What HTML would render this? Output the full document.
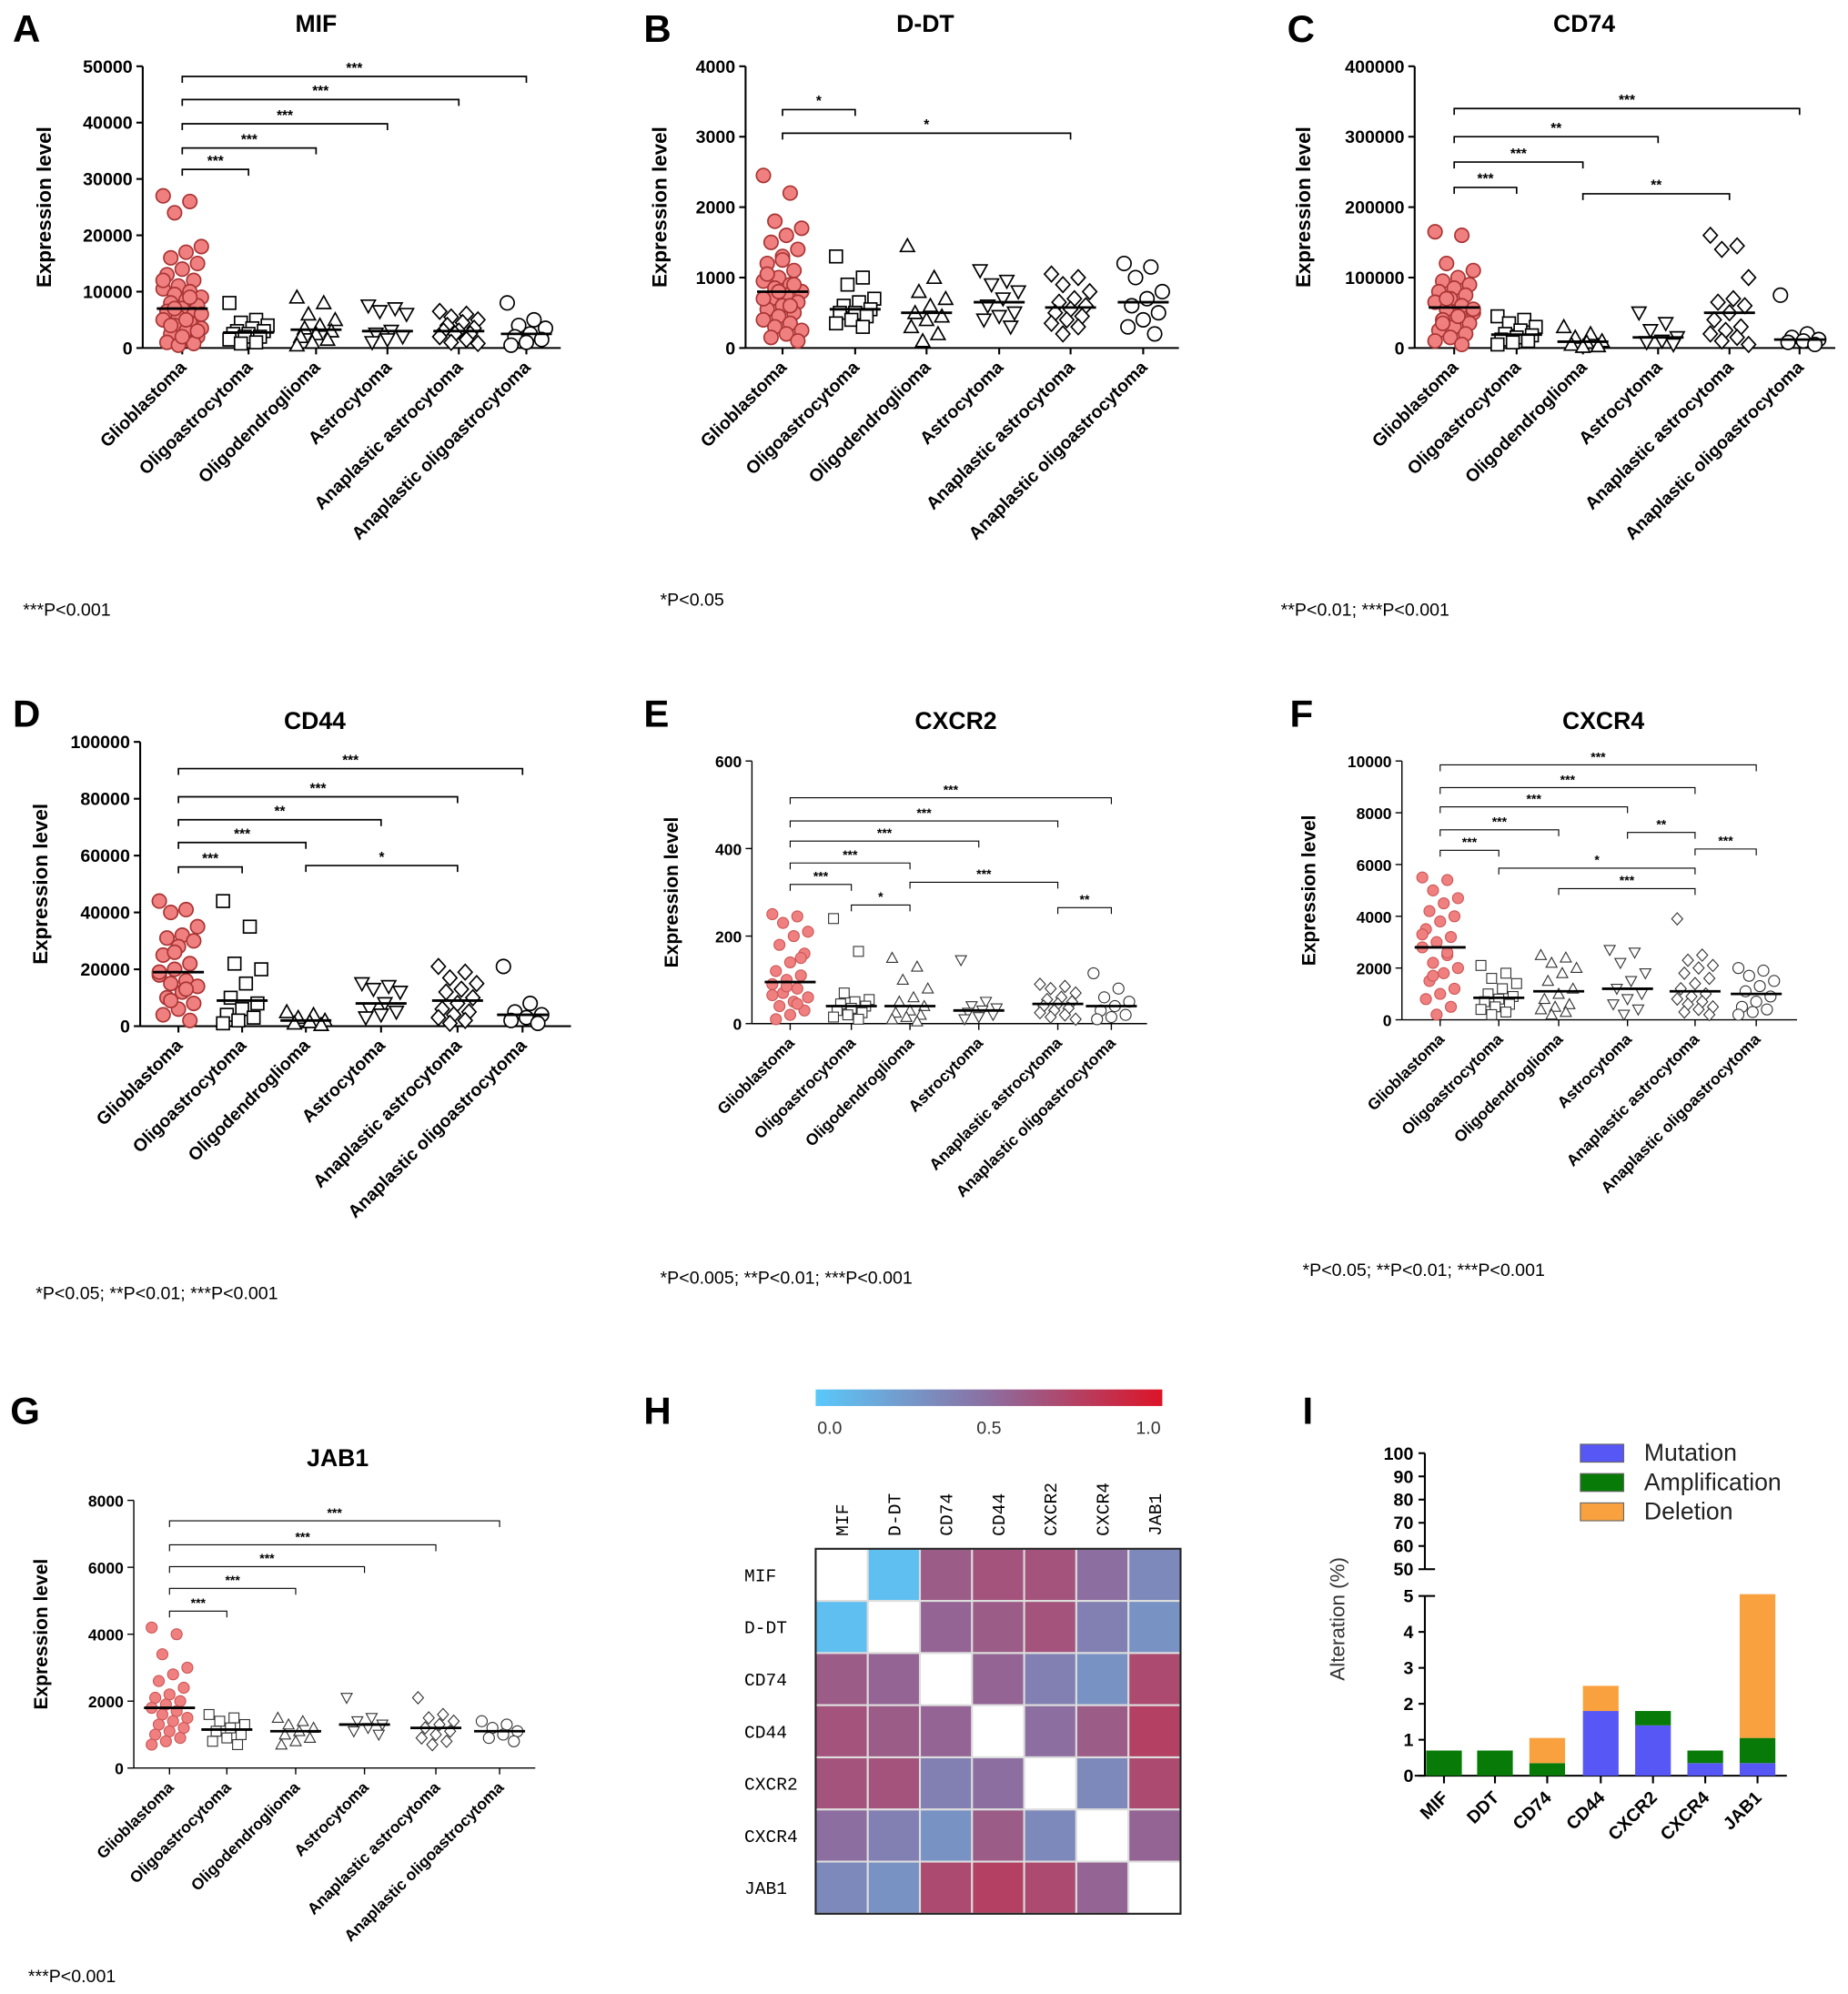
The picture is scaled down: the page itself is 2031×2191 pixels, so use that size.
<!DOCTYPE html>
<html><head><meta charset="utf-8"><style>
html,body{margin:0;padding:0;background:#fff;}
svg{display:block;font-family:"Liberation Sans",Arial,sans-serif;}
</style></head>
<body>
<svg id="fig" xmlns="http://www.w3.org/2000/svg" width="2031" height="2191" viewBox="0 0 1450 1564.25" preserveAspectRatio="none"></svg>
<script>
const catNames = ['Glioblastoma','Oligoastrocytoma','Oligodendroglioma','Astrocytoma','Anaplastic astrocytoma','Anaplastic oligoastrocytoma'];

const mifTicks = [0,10000,20000,30000,40000,50000];
const mifValues = [
 [27000,26000,24000,18000,17000,16000,15000,14000,13000,12000,11000,10500,10000,9500,9000,8500,8000,7500,7000,6500,6000,5500,5000,4500,4000,3500,3000,2500,2000,1500,1000,800,500,12000,9000,7000,6000,5000,4000,3000,2000],
 [8000,5000,4500,4000,3500,3000,3000,2500,2500,2000,2000,1500,1000,800],
 [9000,8000,6000,5000,4000,3500,3000,2500,2000,1500,1000,500],
 [7500,7000,6500,6000,3000,2500,2000,1500,1000],
 [6500,6000,5500,5000,4500,4000,3500,3000,3000,2500,2500,2000,1500,1000,800],
 [8000,5000,4000,3500,2500,2000,1500,1000,500]];
const mifBrackets = [[0,5,48200,'***'],[0,4,44100,'***'],[0,3,39800,'***'],[0,2,35500,'***'],[0,1,31700,'***']];

const ddtTicks = [0,1000,2000,3000,4000];
const ddtValues = [
 [2450,2200,1800,1700,1600,1500,1400,1300,1200,1100,1000,950,900,850,800,750,700,650,600,550,500,450,400,350,300,250,200,150,100,1250,1050,900,800,700,600],
 [1300,1000,900,700,650,600,550,500,500,450,400,350,300],
 [1450,1000,800,700,600,500,450,400,300,200,100],
 [1100,950,900,800,700,600,500,450,400,300],
 [1050,1000,900,800,700,650,600,550,500,450,400,350,300,200],
 [1200,1150,1000,800,700,600,500,400,300,200]];
const ddtBrackets = [[0,1,3385,'*'],[0,4,3050,'*']];

const cd74Ticks = [0,100000,200000,300000,400000];
const cd74Values = [
 [165000,160000,120000,110000,100000,95000,90000,85000,80000,75000,70000,65000,60000,55000,50000,45000,40000,35000,30000,25000,20000,15000,10000,5000,70000,55000,45000,35000],
 [45000,40000,35000,30000,25000,20000,18000,15000,12000,10000,8000,5000],
 [30000,20000,15000,10000,8000,5000,3000,2000],
 [50000,35000,25000,15000,10000,8000,5000],
 [160000,145000,140000,100000,70000,65000,60000,50000,40000,30000,25000,20000,15000,10000,5000],
 [75000,20000,15000,12000,10000,8000,5000]];
const cd74Brackets = [[0,5,340000,'***'],[0,3,300000,'**'],[0,2,264000,'***'],[0,1,228000,'***'],[2,4,219000,'**']];

const cd44Ticks = [0,20000,40000,60000,80000,100000];
const cd44Values = [
 [44000,41000,40000,35000,32000,31000,30000,28000,25000,22000,20000,18000,16000,15000,14000,12000,10000,8000,6000,4000,2000,26000,19000,13000,9000],
 [44000,35000,22000,20000,15000,10000,8000,6000,4000,3000,2000,1000],
 [5000,4000,3000,2000,1500,1000,500],
 [15000,14000,13000,12000,8000,6000,5000,4000,3000],
 [21000,19000,17000,15000,13000,12000,10000,8000,6000,5000,4000,3000,2000,1000],
 [21000,8000,5000,4000,3000,2000,1000]];
const cd44Brackets = [[0,5,90600,'***'],[0,4,80700,'***'],[0,3,72600,'**'],[0,2,64600,'***'],[0,1,56000,'***'],[2,4,56500,'*']];

const cxcr2Ticks = [0,200,400,600];
const cxcr2Values = [
 [250,245,230,210,200,180,160,140,120,110,100,90,80,70,60,50,40,30,20,10,150,85,65,45],
 [240,165,70,55,50,45,40,35,30,25,20,15,10],
 [150,130,100,80,60,50,40,30,25,20,15,10,5],
 [145,50,40,35,30,25,20,15,10],
 [90,85,80,70,60,55,50,45,40,35,30,25,20,15,10],
 [115,80,60,50,40,30,20,15,10]];
const cxcr2Brackets = [[0,5,516,'***'],[0,4,463,'***'],[0,3,417,'***'],[0,2,367,'***'],[0,1,318,'***'],[1,2,271,'*'],[2,4,323,'***'],[4,5,265,'**']];

const cxcr4Ticks = [0,2000,4000,6000,8000,10000];
const cxcr4Values = [
 [5500,5400,5000,4700,4500,4200,4000,3800,3500,3200,3000,2800,2500,2200,2000,1800,1500,1200,1000,800,500,200,3300,2600,1700],
 [2100,1800,1600,1400,1200,1000,900,800,700,600,500,400,300,200],
 [2500,2400,2200,2000,1800,1500,1200,1000,800,600,500,400,300,200],
 [2700,2600,2200,1800,1500,1200,1000,800,600,400,200],
 [3900,2500,2300,2100,2000,1800,1600,1400,1200,1000,900,800,700,600,500,400,300,200],
 [2000,1900,1700,1500,1300,1100,900,700,500,400,300,200]];
const cxcr4Brackets = [[0,5,9850,'***'],[0,4,8970,'***'],[0,3,8230,'***'],[0,2,7340,'***'],[0,1,6550,'***'],[1,4,5860,'*'],[2,4,5070,'***'],[3,4,7240,'**'],[4,5,6600,'***']];

const jab1Ticks = [0,2000,4000,6000,8000];
const jab1Values = [
 [4200,4000,3400,3000,2800,2600,2400,2200,2100,2000,1900,1800,1700,1600,1500,1400,1300,1200,1100,1000,900,800,700],
 [1600,1500,1400,1300,1200,1100,1000,900,800,700],
 [1500,1400,1300,1200,1100,1000,900,800,700],
 [2100,1500,1400,1300,1200,1100,1000],
 [2100,1600,1500,1400,1300,1200,1100,1000,900,800,700],
 [1400,1300,1200,1100,1000,900,800]];
const jab1Brackets = [[0,5,7390,'***'],[0,4,6670,'***'],[0,3,6020,'***'],[0,2,5370,'***'],[0,1,4690,'***']];

const heatGenes = ['MIF','D-DT','CD74','CD44','CXCR2','CXCR4','JAB1'];
const heatMatrix = [
 [null,0.05,0.6,0.65,0.65,0.5,0.35],
 [0.05,null,0.55,0.6,0.65,0.4,0.3],
 [0.6,0.55,null,0.55,0.4,0.3,0.7],
 [0.65,0.6,0.55,null,0.5,0.6,0.75],
 [0.65,0.65,0.4,0.5,null,0.35,0.7],
 [0.5,0.4,0.3,0.6,0.35,null,0.55],
 [0.35,0.3,0.7,0.75,0.7,0.55,null]];
const heatTicks = [0,0.5,1.0];

const altGenes = ['MIF','DDT','CD74','CD44','CXCR2','CXCR4','JAB1'];
const altMutation = [0,0,0,1.8,1.4,0.35,0.35];
const altAmplification = [0.7,0.7,0.35,0,0.4,0.35,0.7];
const altDeletion = [0,0,0.7,0.7,0,0,4.0];
const altLowTicks = [0,1,2,3,4,5];
const altHighTicks = [50,60,70,80,90,100];

const NS='http://www.w3.org/2000/svg';
const svg=document.getElementById('fig');
function mk(tag,attrs,parent){const e=document.createElementNS(NS,tag);for(const k in attrs)e.setAttribute(k,attrs[k]);(parent||svg).appendChild(e);return e;}
function fmt(v){return String(v);}

const panels=[
 {id:'mif',title:'MIF',letter:'A',lx:10,ly:33,ax:112,y0:273,y1:52,xs:[143,195,248,304,360,413],xEnd:440,tx:248,ty:25,ylx:40,values:mifValues,ticks:mifTicks,br:mifBrackets,foot:'***P<0.001',fx:18,fy:483,small:false},
 {id:'ddt',title:'D-DT',letter:'B',lx:505,ly:33,ax:585,y0:273,y1:52,xs:[614,671,727,784,840,897],xEnd:925,tx:726,ty:25,ylx:523,values:ddtValues,ticks:ddtTicks,br:ddtBrackets,foot:'*P<0.05',fx:518,fy:475,small:false},
 {id:'cd74',title:'CD74',letter:'C',lx:1010,ly:33,ax:1110,y0:273,y1:52,xs:[1141,1190,1242,1301,1357,1412],xEnd:1440,tx:1243,ty:25,ylx:1028,values:cd74Values,ticks:cd74Ticks,br:cd74Brackets,foot:'**P<0.01; ***P<0.001',fx:1005,fy:483,small:false},
 {id:'cd44',title:'CD44',letter:'D',lx:10,ly:570,ax:110,y0:805,y1:582,xs:[140,190,240,299,359,410],xEnd:448,tx:247,ty:572,ylx:37,values:cd44Values,ticks:cd44Ticks,br:cd44Brackets,foot:'*P<0.05; **P<0.01; ***P<0.001',fx:28,fy:1019,small:false},
 {id:'cxcr2',title:'CXCR2',letter:'E',lx:505,ly:570,ax:590,y0:803,y1:597,xs:[620,668,714,768,830,872],xEnd:900,tx:750,ty:572,ylx:532,values:cxcr2Values,ticks:cxcr2Ticks,br:cxcr2Brackets,foot:'*P<0.005; **P<0.01; ***P<0.001',fx:518,fy:1007,small:true},
 {id:'cxcr4',title:'CXCR4',letter:'F',lx:1012,ly:570,ax:1100,y0:800,y1:597,xs:[1130,1176,1223,1277,1330,1378],xEnd:1410,tx:1258,ty:572,ylx:1032,values:cxcr4Values,ticks:cxcr4Ticks,br:cxcr4Brackets,foot:'*P<0.05; **P<0.01; ***P<0.001',fx:1022,fy:1001,small:true},
 {id:'jab1',title:'JAB1',letter:'G',lx:8,ly:1117,ax:105,y0:1387,y1:1177,xs:[133,178,232,286,342,392],xEnd:420,tx:265,ty:1150,ylx:37,values:jab1Values,ticks:jab1Ticks,br:jab1Brackets,foot:'***P<0.001',fx:22,fy:1555,small:true}
];

function marker(g,shape,cx,cy,r,glio,small){
 let e;
 const sw=small?0.8:1.2;
 const stroke=glio?(small?'#c55':'#a33'):(small?'#333':'#000');
 const fill=glio?'#f08080':'#fff';
 if(shape===0||shape===5) e=mk('circle',{cx:cx,cy:cy,r:r,fill:fill,stroke:stroke,'stroke-width':sw},g);
 else if(shape===1) e=mk('rect',{x:cx-r*0.9,y:cy-r*0.9,width:r*1.8,height:r*1.8,fill:fill,stroke:stroke,'stroke-width':sw},g);
 else if(shape===2) e=mk('polygon',{points:`${cx},${cy-r} ${cx-r},${cy+r*0.8} ${cx+r},${cy+r*0.8}`,fill:fill,stroke:stroke,'stroke-width':sw},g);
 else if(shape===3) e=mk('polygon',{points:`${cx},${cy+r} ${cx-r},${cy-r*0.8} ${cx+r},${cy-r*0.8}`,fill:fill,stroke:stroke,'stroke-width':sw},g);
 else e=mk('polygon',{points:`${cx},${cy-r*1.1} ${cx+r},${cy} ${cx},${cy+r*1.1} ${cx-r},${cy}`,fill:fill,stroke:stroke,'stroke-width':sw},g);
 return e;
}
function median(a){const s=a.slice().sort((x,y)=>x-y);const n=s.length;return n%2?s[(n-1)/2]:(s[n/2-1]+s[n/2])/2;}

panels.forEach(p=>{
 const g=mk('g',{});
 
 
 const max=p.ticks[p.ticks.length-1];
 const yS=v=>p.y0-(v/max)*(p.y0-p.y1);
 const fs=p.small?12.5:14;
 let t=mk('text',{x:p.lx,y:p.ly,'font-size':30,'font-weight':'bold'},g);t.textContent=p.letter;
 
 
 t=mk('text',{x:p.tx,y:p.ty,'font-size':19,'font-weight':'bold','text-anchor':'middle'},g);t.textContent=p.title;
 
 
 t=mk('text',{x:p.ylx,y:(p.y0+p.y1)/2,'font-size':p.small?15:16,'font-weight':'bold','text-anchor':'middle',transform:`rotate(-90 ${p.ylx} ${(p.y0+p.y1)/2})`},g);t.textContent='Expression level';
 
 
 const ax=mk('g',{stroke:'#000','stroke-width':p.small?1:1.5},g);
 
 
 mk('line',{x1:p.ax,y1:p.y0,x2:p.ax,y2:p.y1},ax);
 mk('line',{x1:p.ax,y1:p.y0,x2:p.xEnd,y2:p.y0},ax);
 p.ticks.forEach(v=>{
  mk('line',{x1:p.ax-5,y1:yS(v),x2:p.ax,y2:yS(v)},ax);
  const tt=mk('text',{x:p.ax-8,y:yS(v)+5,'font-size':fs,'font-weight':'bold','text-anchor':'end',stroke:'none'},g);tt.textContent=fmt(v);
  
  
 });
 p.xs.forEach((x,i)=>{
  mk('line',{x1:x,y1:p.y0,x2:x,y2:p.y0+5},ax);
  const lx=x+4,ly=p.y0+16;
  const tt=mk('text',{x:lx,y:ly,'font-size':fs,'font-weight':'bold','text-anchor':'end',transform:`rotate(-45 ${lx} ${ly})`},g);tt.textContent=catNames[i];
  
  
 });
 const r=p.small?4.3:5.5;
 const spread=p.small?14:15;
 p.values.forEach((arr,ci)=>{
  const sg=mk('g',{},g);
  
  
  arr.forEach((v,i)=>{
   const off=(((i*7)%11)-5)/5*spread;
   const m=marker(sg,ci,p.xs[ci]+off,yS(v),r,ci===0,p.small);
   
   
  });
  const md=median(arr);
  const ml=mk('line',{x1:p.xs[ci]-20,x2:p.xs[ci]+20,y1:yS(md),y2:yS(md),stroke:'#000','stroke-width':2},sg);
  
  
 });
 p.br.forEach(b=>{
  const bg=mk('g',{},g);
  
  
  const y=yS(b[2]),x1=p.xs[b[0]],x2=p.xs[b[1]];
  mk('path',{d:`M${x1},${y+5}V${y}H${x2}V${y+5}`,fill:'none',stroke:'#000','stroke-width':p.small?0.8:1.2},bg);
  const st=mk('text',{x:(x1+x2)/2,y:y-3,'font-size':p.small?10:11,'font-weight':'bold','text-anchor':'middle'},bg);st.textContent=b[3];
 });
 t=mk('text',{x:p.fx,y:p.fy,'font-size':14},g);t.textContent=p.foot;
 
 
});

// Panel H heatmap
(function(){
 const g=mk('g',{});
 
 
 let t=mk('text',{x:505,y:1117,'font-size':30,'font-weight':'bold'},g);t.textContent='H';
 
 
 const c0=[90,200,250],c1=[140,110,160],c2=[220,20,40];
 const col=v=>{let a,b,f;if(v<=0.5){a=c0;b=c1;f=v/0.5;}else{a=c1;b=c2;f=(v-0.5)/0.5;}return `rgb(${a.map((x,i)=>Math.round(x+(b[i]-x)*f)).join(',')})`;};
 const defs=mk('defs',{},g);
 const lg=mk('linearGradient',{id:'cb',x1:0,x2:1,y1:0,y2:0},defs);
 [0,0.25,0.5,0.75,1].forEach(s=>mk('stop',{offset:s,'stop-color':col(s)},lg));
 const cbx0=640,cbx1=912;
 const cb=mk('rect',{x:cbx0,y:1090,width:cbx1-cbx0,height:13,fill:'url(#cb)'},g);
 
 
 heatTicks.forEach(v=>{
  const tt=mk('text',{x:cbx0+11+v*(cbx1-cbx0-22),y:1125,'font-size':14,'text-anchor':'middle',fill:'#333'},g);tt.textContent=v.toFixed(1);
  
  
 });
 const gx0=640,gy0=1215,cs=40.9;
 heatMatrix.forEach((row,ri)=>{row.forEach((v,ci)=>{
  const c=mk('rect',{x:gx0+ci*cs,y:gy0+ri*cs,width:cs,height:cs,fill:v===null?'#fff':col(v),stroke:'#ddd','stroke-width':1.5},g);
  
  
 });});
 const fr=mk('rect',{x:gx0,y:gy0,width:cs*7,height:cs*7,fill:'none',stroke:'#222','stroke-width':1.5},g);
 
 
 heatGenes.forEach((n,i)=>{
  const cx=gx0+i*cs+cs/2+5,cy=1205;
  const a=mk('text',{x:cx,y:cy,'font-size':14,style:'font-family:"Liberation Mono",monospace',transform:`rotate(-90 ${cx} ${cy})`},g);a.textContent=n;
  
  
  const b=mk('text',{x:584,y:gy0+i*cs+cs/2+5,'font-size':14,style:'font-family:"Liberation Mono",monospace'},g);b.textContent=n;
  
  
 });
})();

// Panel I stacked bars
(function(){
 const g=mk('g',{});
 
 
 let t=mk('text',{x:1022,y:1117,'font-size':30,'font-weight':'bold'},g);t.textContent='I';
 
 
 const ax=1118,y0=1393,y5=1252;
 const yL=v=>y0-(v/5)*(y0-y5);
 const yH=v=>1231-((v-50)/50)*(1231-1140);
 const xs=[1133,1173,1214,1256,1297,1338,1379];
 const a=mk('g',{stroke:'#000','stroke-width':1.5},g);
 
 
 mk('line',{x1:ax,y1:y0,x2:ax,y2:y5},a);
 mk('line',{x1:ax,y1:1231,x2:ax,y2:1140},a);
 mk('line',{x1:1110,y1:y0,x2:1402,y2:y0},a);
 mk('line',{x1:ax,y1:1231,x2:ax+8,y2:1231},a);
 mk('line',{x1:ax,y1:y5,x2:ax+8,y2:y5},a);
 altLowTicks.forEach(v=>{mk('line',{x1:ax-5,y1:yL(v),x2:ax,y2:yL(v)},a);
  const tt=mk('text',{x:ax-9,y:yL(v)+5,'font-size':14,'font-weight':'bold','text-anchor':'end',stroke:'none'},g);tt.textContent=v;
  
  });
 altHighTicks.forEach(v=>{mk('line',{x1:ax-5,y1:yH(v),x2:ax,y2:yH(v)},a);
  const tt=mk('text',{x:ax-9,y:yH(v)+5,'font-size':14,'font-weight':'bold','text-anchor':'end',stroke:'none'},g);tt.textContent=v;
  
  });
 t=mk('text',{x:1055,y:1270,'font-size':16,'text-anchor':'middle',fill:'#333',transform:'rotate(-90 1055 1270)'},g);t.textContent='Alteration (%)';
 
 
 const colors=['#5757f5','#077a07','#f9a13e'];
 altGenes.forEach((n,i)=>{
  let base=0;
  [altMutation[i],altAmplification[i],altDeletion[i]].forEach((v,k)=>{
   if(v>0){const r=mk('rect',{x:xs[i]-14,y:yL(base+v),width:28,height:yL(base)-yL(base+v),fill:colors[k]},g);
    
    }
   base+=v;
  });
  mk('line',{x1:xs[i],y1:y0,x2:xs[i],y2:y0+6,stroke:'#000','stroke-width':1.5},g);
  const lx=xs[i]+4,ly=y0+18;
  const tt=mk('text',{x:lx,y:ly,'font-size':14,'font-weight':'bold','text-anchor':'end',transform:`rotate(-45 ${lx} ${ly})`},g);tt.textContent=n;
  
  
 });
 ['Mutation','Amplification','Deletion'].forEach((n,k)=>{
  const lg=mk('g',{},g);
  
  
  mk('rect',{x:1240,y:1133+k*23,width:34,height:14,fill:colors[k],stroke:'#666','stroke-width':0.8},lg);
  const tt=mk('text',{x:1290,y:1146+k*23,'font-size':19,fill:'#222'},lg);tt.textContent=n;
 });
})();
</script>
</body></html>
